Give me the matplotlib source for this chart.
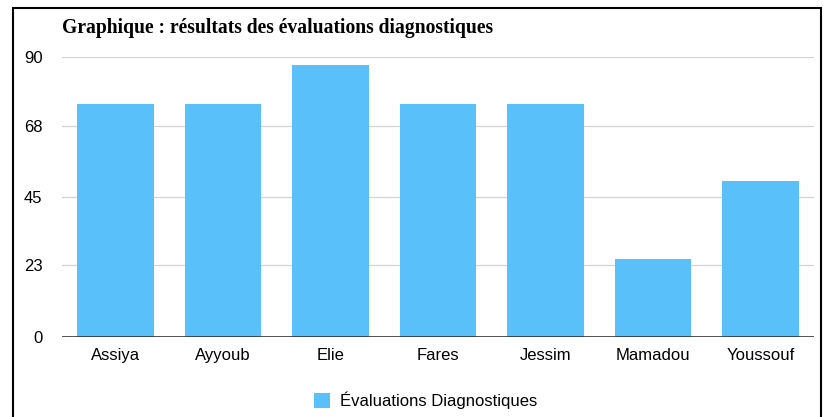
import matplotlib.pyplot as plt
from matplotlib.patches import Rectangle

noms = ['Assiya', 'Ayyoub', 'Elie', 'Fares', 'Jessim', 'Mamadou', 'Youssouf']
notes = [75, 75, 87.5, 75, 75, 25, 50]
graduations = [0, 23, 45, 68, 90]

bleu = '#5AC0FA'

fig = plt.figure(figsize=(8.25, 4.17), dpi=100)
ax = fig.add_axes([0.075, 0.192, 0.912, 0.671])

ax.bar(range(len(noms)), notes, width=0.71, color=bleu, zorder=2,
       label='Évaluations Diagnostiques')
ax.set_xlim(-0.5, len(noms) - 0.5)
ax.set_ylim(0, 90)
ax.set_yticks(graduations)
ax.set_xticks(range(len(noms)))
ax.set_xticklabels(noms)

# grille horizontale claire, ligne de base foncée
for g in graduations[1:]:
    ax.axhline(g, color='#d4d4d4', lw=0.9, zorder=1)
ax.axhline(0, color='#333333', lw=1.2, zorder=3)

for s in ax.spines.values():
    s.set_visible(False)
ax.tick_params(axis='both', length=0, labelsize=12)
ax.tick_params(axis='y', pad=14)
ax.tick_params(axis='x', pad=8)
for lab in ax.get_xticklabels() + ax.get_yticklabels():
    lab.set_fontfamily('Liberation Sans')

fig.text(0.075, 0.932, 'Graphique : résultats des évaluations diagnostiques',
         fontfamily='Liberation Serif', fontweight='bold', fontsize=14.1,
         va='center', ha='left')

fig.legend(loc='center', bbox_to_anchor=(0.516, 0.04), frameon=False,
           prop={'family': 'Liberation Sans', 'size': 12},
           handlelength=1.0, handleheight=1.0, handletextpad=0.6)

# cadre noir autour de l'image
fig.patches.append(Rectangle((0.0158, -0.05), 0.979, 1.031, transform=fig.transFigure,
                             fill=False, edgecolor='black', lw=1.5))

fig.savefig('out.png', dpi=100)
